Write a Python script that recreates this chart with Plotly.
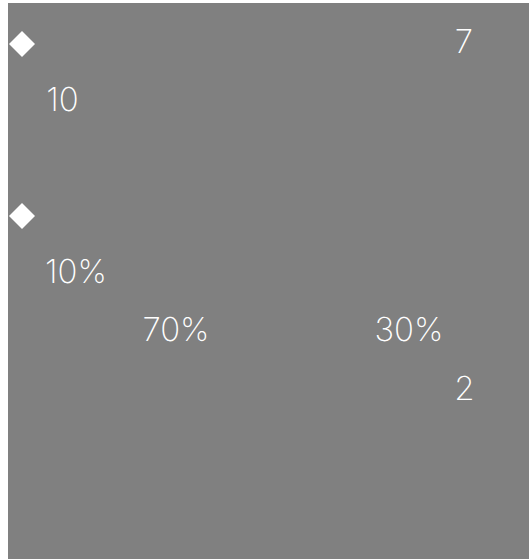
import plotly.graph_objects as go

# Data
marker_rows = ["row A", "row B"]
labels = ["7", "10", "10%", "70%", "30%", "2"]

# Layout helpers (pixel-like coordinates inside the grey panel)
marker_x = [14, 14]
marker_y = [41, 213]
label_x = [456, 54.5, 68, 168, 401, 456.5]
label_y = [41.5, 100, 272, 329.5, 330, 388.5]

W, H = 529, 559
L, T = 8, 3

fig = go.Figure()
fig.add_trace(go.Scatter(
    x=marker_x, y=marker_y, mode="markers", name="markers",
    marker=dict(symbol="diamond", size=20, color="white", line=dict(width=0)),
    hoverinfo="skip", text=marker_rows,
))
fig.add_trace(go.Scatter(
    x=label_x, y=label_y, mode="text", text=labels,
    textposition="middle center",
    textfont=dict(family="Inter", size=33, color="white", weight=200),
    hoverinfo="skip",
))
fig.update_layout(
    width=W, height=H,
    margin=dict(l=L, r=0, t=T, b=0, pad=0),
    paper_bgcolor="white", plot_bgcolor="#808080",
    showlegend=False,
    xaxis=dict(range=[0, W - L], visible=False, fixedrange=True),
    yaxis=dict(range=[H - T, 0], visible=False, fixedrange=True),
)
fig.write_html("out.html", config={"displayModeBar": False},
               post_script="document.body.style.margin='0';document.body.style.overflow='hidden';")
